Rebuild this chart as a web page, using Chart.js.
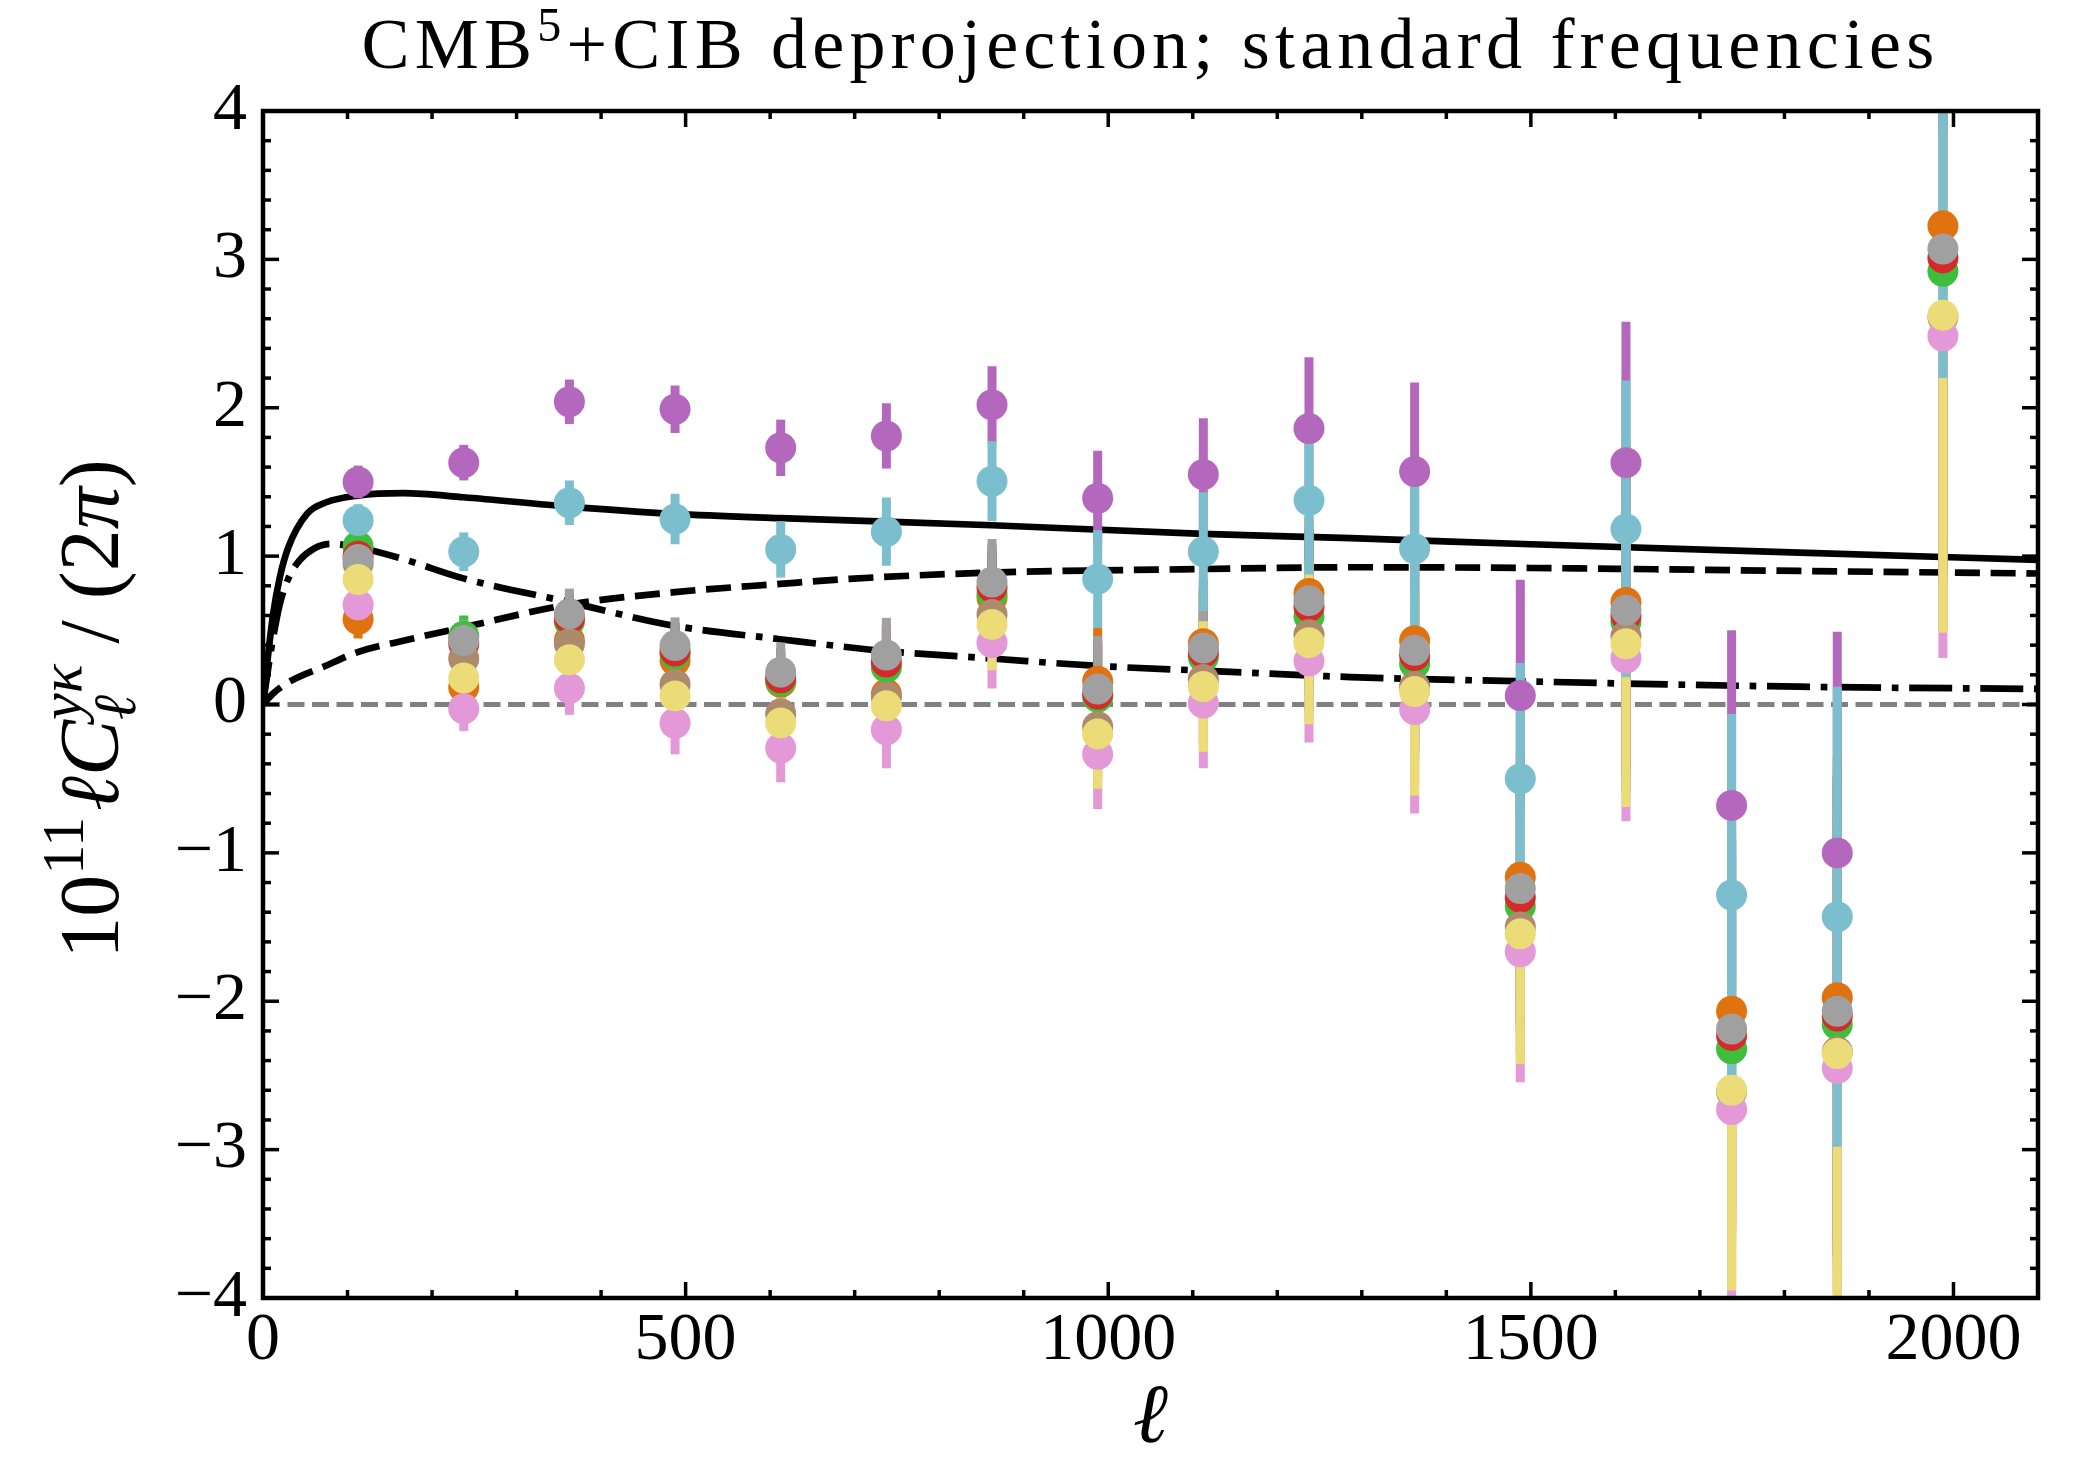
<!DOCTYPE html>
<html>
<head>
<meta charset="utf-8">
<script src="https://cdn.jsdelivr.net/npm/chart.js@4.4.1/dist/chart.umd.min.js"></script>
<style>
  html, body { margin: 0; padding: 0; background: #fff; }
  #wrap { width: 2091px; height: 1458px; }
</style>
</head>
<body>
<div id="wrap"><canvas id="chart" width="2091" height="1458"></canvas></div>
<script>
// multipole bin centres
const ells = [112.5, 237.5, 362.5, 487.5, 612.5, 737.5, 862.5, 987.5,
              1112.5, 1237.5, 1362.5, 1487.5, 1612.5, 1737.5, 1862.5, 1987.5];

// measured points, one array per frequency combination
const purpleVals = [1.50, 1.63, 2.04, 1.99, 1.73, 1.81, 2.02, 1.39, 1.55, 1.86, 1.57, 0.06, 1.63, -0.68, -1.00, 5.40];
const purpleErr  = [0.11, 0.12, 0.15, 0.16, 0.19, 0.22, 0.26, 0.32, 0.38, 0.48, 0.60, 0.78, 0.95, 1.18, 1.49, 1.55];
const cyanVals   = [1.24, 1.03, 1.36, 1.25, 1.045, 1.165, 1.505, 0.845, 1.03, 1.377, 1.05, -0.50, 1.183, -1.284, -1.43, 4.40];
const cyanErr    = [0.11, 0.13, 0.15, 0.17, 0.19, 0.23, 0.27, 0.33, 0.40, 0.50, 0.55, 0.78, 1.00, 1.22, 1.55, 2.20];
const orangeVals = [0.575, 0.117, 0.431, 0.297, 0.15, 0.07, 0.72, 0.156, 0.41, 0.748, 0.43, -1.165, 0.687, -2.067, -1.976, 3.226];
const greenVals  = [1.065, 0.46, 0.56, 0.34, 0.16, 0.251, 0.747, 0.05, 0.32, 0.594, 0.275, -1.36, 0.56, -2.32, -2.157, 2.92];
const redVals    = [1.00, 0.41, 0.58, 0.36, 0.18, 0.286, 0.79, 0.07, 0.35, 0.66, 0.33, -1.30, 0.60, -2.23, -2.10, 3.01];
const brownVals  = [0.95, 0.308, 0.409, 0.135, -0.063, 0.05, 0.606, -0.15, 0.168, 0.47, 0.12, -1.50, 0.46, -2.61, -2.34, 2.61];
const grayVals   = [0.977, 0.431, 0.611, 0.397, 0.218, 0.334, 0.826, 0.104, 0.381, 0.70, 0.365, -1.24, 0.636, -2.187, -2.067, 3.07];
const midErr     = [0.13, 0.14, 0.17, 0.19, 0.20, 0.25, 0.29, 0.36, 0.43, 0.52, 0.66, 0.85, 1.06, 1.32, 1.62, 2.10];
const yellowVals = [0.842, 0.178, 0.301, 0.058, -0.124, -0.009, 0.54, -0.198, 0.121, 0.417, 0.087, -1.545, 0.41, -2.60, -2.352, 2.624];
const yellowErr  = [0.13, 0.15, 0.18, 0.21, 0.23, 0.26, 0.31, 0.37, 0.44, 0.55, 0.70, 0.88, 1.10, 1.35, 1.65, 2.14];
const pinkVals   = [0.672, -0.029, 0.11, -0.126, -0.294, -0.17, 0.417, -0.335, 0.01, 0.294, -0.034, -1.666, 0.313, -2.73, -2.452, 2.483];
const pinkErr    = [0.13, 0.15, 0.18, 0.21, 0.23, 0.26, 0.31, 0.37, 0.44, 0.55, 0.70, 0.88, 1.10, 1.30, 1.60, 2.17];

// model curves
const totalEll = [0, 5, 12, 20, 30, 52, 75, 112, 166, 237, 362, 487, 612, 862, 1112, 1287, 1500, 1818, 2100];
const totalVal = [0, 0.28, 0.61, 0.86, 1.06, 1.285, 1.363, 1.408, 1.424, 1.397, 1.334, 1.285, 1.256, 1.208, 1.15, 1.121, 1.08, 1.023, 0.975];
const oneHaloEll = [0, 5, 12, 20, 30, 43, 60, 80, 112, 166, 237, 362, 487, 612, 737, 862, 987, 1112, 1287, 1500, 1818, 2100];
const oneHaloVal = [0, 0.2, 0.45, 0.68, 0.85, 0.97, 1.05, 1.083, 1.06, 0.98, 0.85, 0.69, 0.53, 0.44, 0.36, 0.31, 0.26, 0.228, 0.185, 0.155, 0.12, 0.105];
const twoHaloEll = [0, 12, 30, 75, 112, 166, 237, 362, 487, 612, 694, 862, 1112, 1287, 1500, 1818, 2100];
const twoHaloVal = [0, 0.074, 0.15, 0.263, 0.353, 0.43, 0.52, 0.674, 0.757, 0.813, 0.847, 0.889, 0.913, 0.925, 0.92, 0.90, 0.883];
const zeroEll = [0, 2100];
const zeroVal = [0, 0];

const xTicks = [0, 500, 1000, 1500, 2000];
const yTicks = [-4, -3, -2, -1, 0, 1, 2, 3, 4];

const series = {
  orange: { color: '#E0720F', values: orangeVals, err: midErr },
  green:  { color: '#3DBF3C', values: greenVals,  err: midErr },
  red:    { color: '#D62A2A', values: redVals,    err: midErr },
  brown:  { color: '#AD8A6C', values: brownVals,  err: midErr },
  gray:   { color: '#A0A0A0', values: grayVals,   err: midErr },
  pink:   { color: '#E398D8', values: pinkVals,   err: pinkErr },
  yellow: { color: '#EBDC77', values: yellowVals, err: yellowErr },
  purple: { color: '#B468BD', values: purpleVals, err: purpleErr },
  cyan:   { color: '#7BBFCF', values: cyanVals,   err: cyanErr }
};
const barOrder = ['orange', 'green', 'red', 'brown', 'gray', 'pink', 'yellow', 'purple', 'cyan'];
const markerOrder = ['orange', 'green', 'red', 'brown', 'pink', 'gray', 'yellow', 'cyan', 'purple'];

const SERIF = '"Liberation Serif", "Times New Roman", serif';
const toXY = (xs, ys) => xs.map((v, i) => ({ x: v, y: ys[i] }));

// error bars: drawn just before the first marker dataset, above the curves
const errorBars = {
  id: 'errorBars',
  beforeDatasetDraw(chart, args) {
    if (!chart.data.datasets[args.index].drawBars) return;
    const { ctx, chartArea: a, scales: { x, y } } = chart;
    ctx.save();
    ctx.beginPath();
    ctx.rect(a.left, a.top, a.width, a.height);
    ctx.clip();
    ctx.lineWidth = 9;
    ctx.lineCap = 'butt';
    barOrder.forEach(k => {
      const s = series[k];
      ctx.strokeStyle = s.color;
      s.values.forEach((v, i) => {
        const px = x.getPixelForValue(ells[i]);
        ctx.beginPath();
        ctx.moveTo(px, y.getPixelForValue(v - s.err[i]));
        ctx.lineTo(px, y.getPixelForValue(v + s.err[i]));
        ctx.stroke();
      });
    });
    ctx.restore();
  }
};

// inward ticks on all four sides + frame
const frameTicks = {
  id: 'frameTicks',
  afterDatasetsDraw(chart) {
    const { ctx, chartArea: a, scales: { x, y } } = chart;
    const seg = (x1, y1, x2, y2) => { ctx.beginPath(); ctx.moveTo(x1, y1); ctx.lineTo(x2, y2); ctx.stroke(); };
    ctx.save();
    ctx.strokeStyle = '#000';
    ctx.lineWidth = 3.5;
    for (let v = 0; v <= 2100; v += 100) {
      const px = x.getPixelForValue(v);
      const len = v % 500 === 0 ? 16 : 8;
      seg(px, a.bottom, px, a.bottom - len);
      seg(px, a.top, px, a.top + len);
    }
    for (let k = -20; k <= 20; k++) {
      const py = y.getPixelForValue(k / 5);
      const len = k % 5 === 0 ? 16 : 8;
      seg(a.left, py, a.left + len, py);
      seg(a.right, py, a.right - len, py);
    }
    ctx.lineWidth = 4.5;
    ctx.strokeRect(a.left, a.top, a.width, a.height);
    ctx.restore();
  }
};

// draw a run of text pieces (with raised / lowered scripts) centred on 0
function drawPieces(ctx, parts, spacing) {
  ctx.letterSpacing = spacing + 'px';
  const widths = parts.map(g => Math.max(...g.map(p => { ctx.font = p.f; return ctx.measureText(p.t).width; })));
  const total = widths.reduce((s, w) => s + w, 0);
  let cx = -total / 2;
  parts.forEach((g, i) => {
    g.forEach(p => { ctx.font = p.f; ctx.fillText(p.t, cx, p.dy); });
    cx += widths[i];
  });
}
const rm = s => `${s}px ${SERIF}`;
const it = s => `italic ${s}px ${SERIF}`;

// title with a real superscript
const titleText = {
  id: 'titleText',
  afterDraw(chart) {
    const ctx = chart.ctx;
    const a = chart.chartArea;
    ctx.save();
    ctx.fillStyle = '#000';
    ctx.textBaseline = 'alphabetic';
    ctx.textAlign = 'left';
    ctx.translate((a.left + a.right) / 2, 68);
    drawPieces(ctx, [
      [{ t: 'CMB', f: rm(72), dy: 0 }],
      [{ t: '5', f: rm(48), dy: -27 }],
      [{ t: '+CIB deprojection; standard frequencies', f: rm(72), dy: 0 }]
    ], 5.2);
    ctx.restore();
  }
};

// y axis label with super/subscripts
const yLabel = {
  id: 'yLabel',
  afterDraw(chart) {
    const ctx = chart.ctx;
    const big = 84, small = 60;
    ctx.save();
    ctx.translate(118, 709);
    ctx.rotate(-Math.PI / 2);
    ctx.fillStyle = '#000';
    ctx.textBaseline = 'alphabetic';
    ctx.textAlign = 'left';
    drawPieces(ctx, [
      [{ t: '10', f: rm(big), dy: 0 }],
      [{ t: '11', f: rm(small), dy: -0.42 * big }],
      [{ t: ' ', f: rm(small * 0.4), dy: 0 }],
      [{ t: 'ℓ', f: it(big), dy: 0 }],
      [{ t: 'C', f: it(big), dy: 0 }],
      [{ t: 'ℓ', f: it(small), dy: 0.2 * big }, { t: 'yκ', f: it(small), dy: -0.44 * big }],
      [{ t: ' / (2', f: rm(big), dy: 0 }],
      [{ t: 'π', f: it(big), dy: 0 }],
      [{ t: ')', f: rm(big), dy: 0 }]
    ], 0);
    ctx.restore();
  }
};

const lineStyle = (data, dash, order) => ({
  type: 'line', data, order,
  borderColor: '#000', borderWidth: 6.7, borderDash: dash,
  pointRadius: 0, cubicInterpolationMode: 'monotone', fill: false, clip: 0
});

const datasets = [
  { type: 'line', data: toXY(zeroEll, zeroVal), order: 40, borderColor: '#808080', borderWidth: 5,
    borderDash: [17, 7.5], pointRadius: 0, fill: false, clip: 0 },
  lineStyle(toXY(totalEll, totalVal), [], 30),
  lineStyle(toXY(twoHaloEll, twoHaloVal), [25, 10.7], 31),
  lineStyle(toXY(oneHaloEll, oneHaloVal), [43, 10.7, 6.7, 10.7], 32)
];
markerOrder.forEach((k, i) => {
  const s = series[k];
  datasets.push({
    type: 'line', label: k, data: toXY(ells, s.values), order: markerOrder.length - i,
    showLine: false, pointRadius: 15.5, pointHoverRadius: 15.5, pointBorderWidth: 0,
    pointBackgroundColor: s.color, borderColor: s.color, clip: 0, drawBars: i === 0
  });
});

new Chart(document.getElementById('chart'), {
  data: { datasets },
  options: {
    responsive: false,
    animation: false,
    events: [],
    layout: { padding: { left: 0, right: 53, top: 111, bottom: 0 } },
    plugins: {
      legend: { display: false },
      tooltip: { enabled: false },
      title: { display: false }
    },
    scales: {
      x: {
        type: 'linear', min: 0, max: 2100,
        grid: { display: false, drawTicks: false },
        border: { display: false },
        afterBuildTicks: s => { s.ticks = xTicks.map(v => ({ value: v })); },
        afterFit: s => { s.height = 160; },
        ticks: { color: '#000', padding: 2, maxRotation: 0, font: { family: SERIF, size: 68 },
                 callback: v => String(v) },
        title: { display: true, text: 'ℓ', color: '#000', padding: 0,
                 font: { family: SERIF, size: 84, style: 'italic', lineHeight: 0.9 } }
      },
      y: {
        type: 'linear', min: -4, max: 4,
        grid: { display: false, drawTicks: false },
        border: { display: false },
        afterBuildTicks: s => { s.ticks = yTicks.map(v => ({ value: v })); },
        afterFit: s => { s.width = 263; },
        ticks: { color: '#000', padding: 16, font: { family: SERIF, size: 68 },
                 callback: v => (v < 0 ? '\u2212' + Math.abs(v) : String(v)) }
      }
    }
  },
  plugins: [errorBars, frameTicks, titleText, yLabel]
});
</script>
</body>
</html>
